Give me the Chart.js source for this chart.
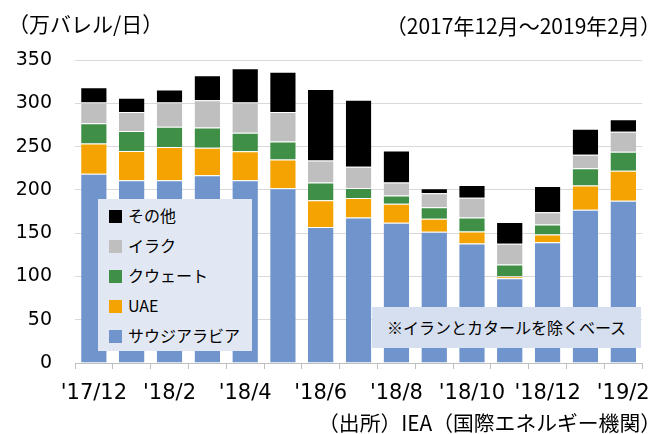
<!DOCTYPE html>
<html>
<head>
<meta charset="utf-8">
<script src="https://cdn.jsdelivr.net/npm/chart.js@4/dist/chart.umd.min.js"></script>
<style>
    body { margin: 0; background: #fff; }
    #wrap { position: relative; width: 662px; height: 434px; font-family: "DejaVu Sans", "Noto Sans CJK JP", sans-serif; color: #000; }
    #chart { position: absolute; left: 0; top: 0; }
    .txt { position: absolute; white-space: nowrap; font-family: "Noto Sans CJK JP", sans-serif; line-height: 30px; }
    #unit { left: 8px; top: 8px; font-size: 21px; }
    #period { right: 1px; top: 10px; font-size: 21px; }
    #source { right: 1px; top: 407px; font-size: 20.8px; }
    #legend { position: absolute; left: 98px; top: 199px; width: 154px; height: 152px; background: #e2e8f3; }
    .item { position: absolute; left: 11px; height: 30px; line-height: 30px; font-size: 16px; font-family: "Noto Sans CJK JP", sans-serif; }
    .item span.box { display: inline-block; width: 13px; height: 13px; margin-right: 6px; vertical-align: -1px; }
    #note { position: absolute; left: 372px; top: 307px; width: 269px; height: 41px; background: #d6dfef; font-size: 16px; line-height: 41px; text-align: center; font-family: "Noto Sans CJK JP", sans-serif; }
</style>
</head>
<body>
<div id="wrap">
    <canvas id="chart" width="662" height="434"></canvas>
    <div class="txt" id="unit">（万バレル/日）</div>
    <div class="txt" id="period">（2017年12月～2019年2月）</div>
    <div class="txt" id="source">（出所）IEA（国際エネルギー機関）</div>
    <div id="legend"></div>
    <div id="note">※イランとカタールを除くベース</div>
</div>
<script>
var months = ["'17/12", "'18/1", "'18/2", "'18/3", "'18/4", "'18/5", "'18/6", "'18/7", "'18/8", "'18/9", "'18/10", "'18/11", "'18/12", "'19/1", "'19/2"];
var seriesNames = ["サウジアラビア", "UAE", "クウェート", "イラク", "その他"];
var seriesColors = ["#7094cc", "#f4a300", "#3f8f47", "#bfbfbf", "#000000"];
var saudi = [218.5, 211, 211, 217, 211, 202, 157, 168, 162, 151.5, 138, 98, 139.5, 177, 187.5];
var uae = [35, 34, 38.5, 31.5, 33.5, 33, 31, 22.5, 22, 15, 14, 2.3, 9, 28, 34.5];
var kuwait = [23.5, 23, 23.5, 23.5, 21.5, 21, 20.5, 11.7, 9.5, 13.5, 16, 13.5, 11.5, 20, 22];
var iraq = [24, 22, 28, 31.5, 35, 34, 25.5, 24.6, 15, 16, 23, 24, 14, 15.5, 23];
var other = [17.5, 16.5, 15, 29, 39.5, 46.5, 82.5, 77.3, 37, 6, 14.5, 25, 30.5, 30, 14.5];
var yTicks = [0, 50, 100, 150, 200, 250, 300, 350];

var values = [saudi, uae, kuwait, iraq, other];
var datasets = [];
for (var i = 0; i < values.length; i++) {
    datasets.push({
        label: seriesNames[i],
        data: values[i],
        backgroundColor: seriesColors[i],
        borderColor: "rgba(255,255,255,0.35)",
        borderWidth: { top: 1, bottom: 0, left: 0, right: 0 },
        categoryPercentage: 1,
        barPercentage: 0.675
    });
}

// legend (reverse order like the original)
var html = "";
for (var j = seriesNames.length - 1, k = 0; j >= 0; j--, k++) {
    html += '<div class="item" style="top:' + (1 + k * 30) + 'px"><span class="box" style="background:' + seriesColors[j] + '"></span>' + seriesNames[j] + '</div>';
}
document.getElementById("legend").innerHTML = html;

var myChart = new Chart(document.getElementById("chart"), {
    type: 'bar',
    data: { labels: months, datasets: datasets },
    options: {
        responsive: false,
        animation: false,
        layout: { padding: { top: 60, left: 0, right: 9, bottom: 0 } },
        plugins: { legend: { display: false }, tooltip: { enabled: false } },
        scales: {
            x: {
                stacked: true,
                offset: true,
                afterFit: function (s) { s.height = 71; },
                border: { display: true, color: "#bfbfbf" },
                grid: { display: true, offset: true, drawOnChartArea: false, drawTicks: true, tickLength: 6, color: "#bfbfbf" },
                ticks: {
                    autoSkip: false,
                    maxRotation: 0,
                    padding: 12,
                    color: "#000",
                    font: { family: "DejaVu Sans", size: 21 },
                    callback: function (v, idx) { return idx % 2 == 0 ? months[idx] : ""; }
                }
            },
            y: {
                stacked: true,
                min: 0,
                max: 350,
                afterFit: function (s) { s.width = 75; },
                afterBuildTicks: function (s) { s.ticks = yTicks.map(function (v) { return { value: v }; }); },
                border: { display: false },
                grid: { color: "#d9d9d9", drawTicks: false },
                ticks: {
                    padding: 23,
                    color: "#000",
                    font: { family: "DejaVu Sans", size: 19 }
                }
            }
        }
    }
});
</script>
</body>
</html>
